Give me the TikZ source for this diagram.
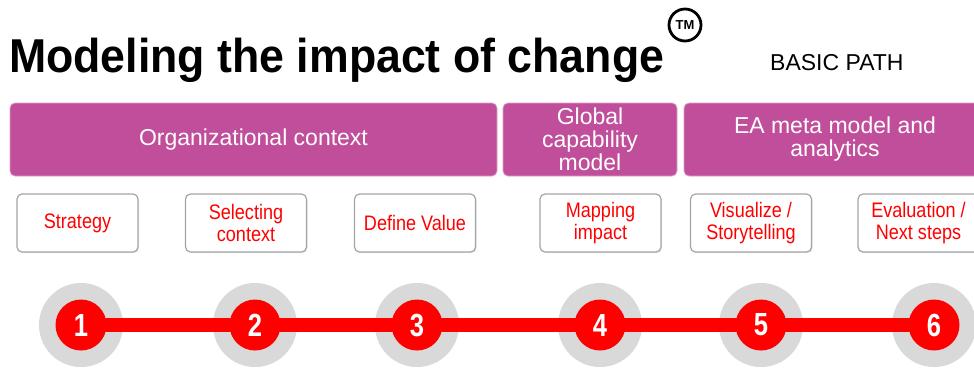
\documentclass[tikz,border=0pt]{standalone}
\usepackage{fontspec}
\setmainfont{Liberation Sans}
\newfontfamily\titlefont[FakeStretch=0.94]{Liberation Sans}
\newfontfamily\narrowfont[FakeStretch=0.86]{Liberation Sans}
\newfontfamily\numfont[FakeStretch=0.8]{Liberation Sans}
\usetikzlibrary{shadows}
\definecolor{purp}{RGB}{192,78,154}
\definecolor{ringgray}{RGB}{217,217,217}
\definecolor{boxgray}{RGB}{165,165,165}
\tikzset{
  phase/.style={rectangle, rounded corners=5pt, fill=purp, draw=purp!55!white, line width=0.8pt,
    text=white, align=center, inner sep=0pt, minimum height=73pt,
    font=\fontsize{23}{23}\selectfont},
  stepbox/.style={rectangle, rounded corners=5pt, draw=boxgray, line width=1.2pt, fill=white,
    text=red, align=center, inner sep=0pt, minimum width=121pt, minimum height=58pt,
    font=\narrowfont\fontsize{21}{22}\selectfont,
    drop shadow={opacity=0.2, shadow xshift=1pt, shadow yshift=-1.2pt}},
  ring/.style={circle, fill=ringgray, minimum size=84pt, inner sep=0pt},
  dot/.style={circle, fill=red, minimum size=51pt, inner sep=0pt, text=white,
    font=\numfont\bfseries\fontsize{32}{32}\selectfont},
  redpath/.style={red, line width=14pt}
}
\begin{document}
\begin{tikzpicture}[x=1pt,y=-1pt]
\useasboundingbox (0,0) rectangle (974,368);
\clip (0,0) rectangle (974,368);
\fill[white] (0,0) rectangle (974,368);
% title
\node[anchor=base west, inner sep=0pt, font=\titlefont\bfseries\fontsize{47.5}{47.5}\selectfont] (title) at (9,72) {Modeling the impact of change};
\node[circle, draw, line width=2.8pt, minimum size=32pt, inner sep=0pt, font=\bfseries\fontsize{13}{13}\selectfont] (tm) at (685,25) {TM};
\node[anchor=base west, inner sep=0pt, font=\fontsize{23}{23}\selectfont] (basic) at (770,70) {BASIC PATH};
% phase boxes
\node[phase, minimum width=487pt] (p1) at (253.5,139.5) {Organizational context};
\node[phase, minimum width=174pt] (p2) at (590,139.5) {Global\\capability\\model};
\node[phase, minimum width=302pt] (p3) at (835,139.5) {\raisebox{-2pt}{\parbox{280pt}{\centering EA meta model and\\analytics}}};
% step boxes
\node[stepbox] (s1) at (77.5,223) {\raisebox{-1.5pt}{Strategy}};
\node[stepbox] (s2) at (246,223) {Selecting\\context};
\node[stepbox] (s3) at (415,223) {\raisebox{-1.5pt}{Define Value}};
\node[stepbox] (s4) at (600.5,223) {Mapping\\impact};
\node[stepbox] (s5) at (751,223) {Visualize /\\Storytelling};
\node[stepbox] (s6) at (918.5,223) {Evaluation /\\Next steps};
% rings
\node[ring] (g1) at (81,325) {};
\node[ring] (g2) at (255,325) {};
\node[ring] (g3) at (417,325) {};
\node[ring] (g4) at (600,325) {};
\node[ring] (g5) at (761,325) {};
\node[ring] (g6) at (934,325) {};
\draw[redpath] (g1.center) -- (g2.center) -- (g3.center) -- (g4.center) -- (g5.center) -- (g6.center);
\node[dot] (d1) at (g1) {1};
\node[dot] (d2) at (g2) {2};
\node[dot] (d3) at (g3) {3};
\node[dot] (d4) at (g4) {4};
\node[dot] (d5) at (g5) {5};
\node[dot] (d6) at (g6) {6};
\end{tikzpicture}
\end{document}
